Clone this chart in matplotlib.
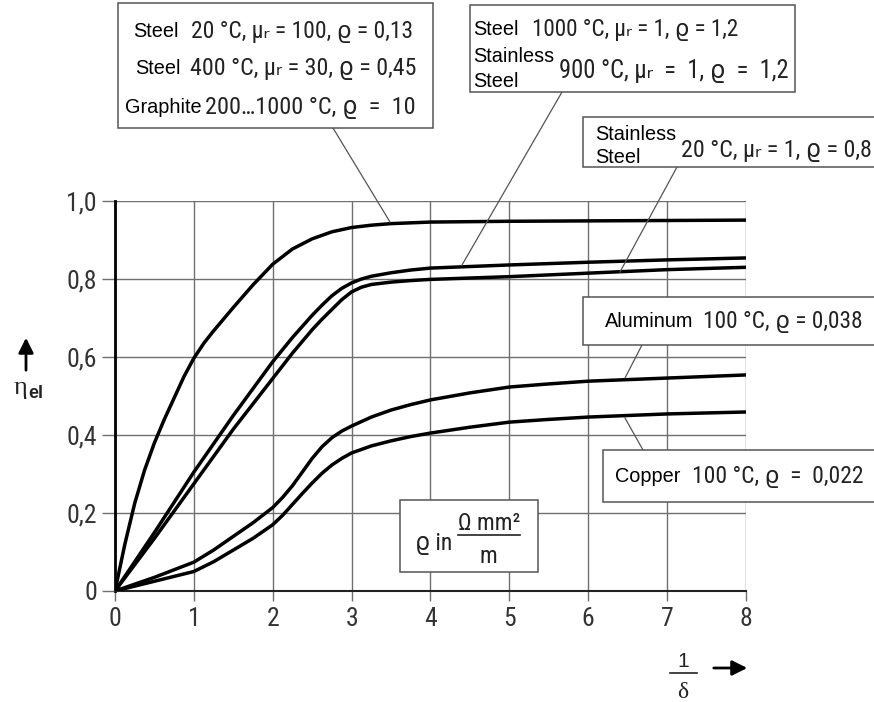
import matplotlib
matplotlib.use('Agg')
import matplotlib.pyplot as plt
from matplotlib import font_manager
from matplotlib.patches import Rectangle, FancyArrowPatch
from matplotlib.lines import Line2D

# ---------------- data ----------------
x_steel20 = [0, 0.125, 0.25, 0.375, 0.5, 0.625, 0.75, 0.875, 1, 1.125, 1.25, 1.5, 1.75, 2, 2.25, 2.5,
             2.75, 3, 3.25, 3.5, 4, 5, 6, 7, 8]
y_steel20 = [0, 0.12, 0.225, 0.31, 0.38, 0.44, 0.495, 0.55, 0.597, 0.635, 0.667, 0.727, 0.785, 0.838,
             0.877, 0.903, 0.921, 0.932, 0.938, 0.942, 0.946, 0.948, 0.949, 0.95, 0.951]

x_steel1000 = [0, 0.5, 1, 1.5, 2, 2.25, 2.5, 2.625, 2.75, 2.875, 3, 3.125, 3.25, 3.5, 3.75, 4, 5, 6, 7, 8]
y_steel1000 = [0, 0.15, 0.305, 0.45, 0.588, 0.65, 0.707, 0.733, 0.757, 0.776, 0.79, 0.80, 0.807, 0.816,
               0.823, 0.828, 0.836, 0.843, 0.849, 0.854]

x_stainless20 = [0, 0.5, 1, 1.5, 2, 2.25, 2.5, 2.625, 2.75, 2.875, 3, 3.125, 3.25, 3.5, 3.75, 4, 5, 6, 7, 8]
y_stainless20 = [0, 0.135, 0.275, 0.415, 0.545, 0.61, 0.67, 0.697, 0.722, 0.747, 0.767, 0.779, 0.786,
                 0.792, 0.796, 0.799, 0.806, 0.815, 0.824, 0.83]

x_aluminum = [0, 0.5, 1, 1.25, 1.5, 1.75, 2, 2.125, 2.25, 2.375, 2.5, 2.625, 2.75, 2.875, 3, 3.25, 3.5,
              3.75, 4, 4.5, 5, 5.5, 6, 7, 8]
y_aluminum = [0, 0.035, 0.074, 0.105, 0.14, 0.175, 0.214, 0.24, 0.27, 0.305, 0.34, 0.37, 0.393, 0.41,
              0.423, 0.446, 0.464, 0.478, 0.49, 0.508, 0.523, 0.531, 0.538, 0.546, 0.554]

x_copper = [0, 0.5, 1, 1.25, 1.5, 1.75, 2, 2.125, 2.25, 2.375, 2.5, 2.625, 2.75, 2.875, 3, 3.25, 3.5,
            3.75, 4, 4.5, 5, 5.5, 6, 7, 8]
y_copper = [0, 0.025, 0.05, 0.075, 0.105, 0.135, 0.17, 0.194, 0.222, 0.25, 0.277, 0.302, 0.323, 0.34,
            0.354, 0.372, 0.385, 0.396, 0.405, 0.42, 0.433, 0.44, 0.446, 0.454, 0.459]

x_ticks = [0, 1, 2, 3, 4, 5, 6, 7, 8]
y_ticks = [0, 0.2, 0.4, 0.6, 0.8, 1.0]
y_ticklabels = ['0', '0,2', '0,4', '0,6', '0,8', '1,0']

# ---------------- fonts ----------------
names = {f.name for f in font_manager.fontManager.ttflist}
COND = 'Liberation Sans'
for cand in ['Liberation Sans Narrow', 'Roboto Condensed', 'DejaVu Sans Condensed',
             'Open Sans Condensed', 'Liberation Sans']:
    if cand in names:
        COND = cand
        break
SANS = 'Liberation Sans' if 'Liberation Sans' in names else 'DejaVu Sans'
SERIF = 'Liberation Serif' if 'Liberation Serif' in names else 'DejaVu Serif'
CONDL = [COND, 'DejaVu Sans']
TICKSIZE = 16 if COND == 'Liberation Sans' else 18.5

W, H = 874, 702


def F(x, y):
    return (x / W, 1 - y / H)


fig = plt.figure(figsize=(W / 100, H / 100), dpi=100)
ax = fig.add_axes([115 / W, 1 - 591 / H, (746 - 115) / W, (591 - 201) / H])

for xs, ys in [(x_steel20, y_steel20), (x_steel1000, y_steel1000), (x_stainless20, y_stainless20),
               (x_aluminum, y_aluminum), (x_copper, y_copper)]:
    ax.plot(xs, ys, color='black', lw=2.5, solid_capstyle='butt', solid_joinstyle='round', zorder=3)

ax.set_xlim(0, 8)
ax.set_ylim(0, 1)
ax.set_xticks(x_ticks)
ax.set_xticklabels([str(v) for v in x_ticks])
ax.set_yticks(y_ticks)
ax.set_yticklabels(y_ticklabels)
ax.grid(True, color='#707070', lw=1.0)
for s in ['top', 'right']:
    ax.spines[s].set_visible(False)
ax.spines['left'].set_linewidth(2.0)
ax.spines['bottom'].set_linewidth(1.5)
ax.spines['bottom'].set_color('#222222')
ax.tick_params(axis='y', direction='out', length=9.5, width=1.0, color='#707070', pad=3.5)
ax.tick_params(axis='x', direction='out', length=7.5, width=1.0, color='#707070', pad=4)
for lab in ax.get_xticklabels() + ax.get_yticklabels():
    lab.set_fontfamily(CONDL)
    lab.set_fontsize(TICKSIZE)
    lab.set_color('#333333')

# ---------------- annotation boxes ----------------
fit_list = []


def box(x0, y0, x1, y1):
    r = Rectangle(F(x0, y1), (x1 - x0) / W, (y1 - y0) / H, transform=fig.transFigure,
                  facecolor='white', edgecolor='#555555', lw=1.1, zorder=5)
    fig.add_artist(r)


def leader(x0, y0, x1, y1):
    fig.add_artist(Line2D([x0 / W, x1 / W], [1 - y0 / H, 1 - y1 / H], transform=fig.transFigure,
                          color='#555555', lw=0.9, zorder=4))


def word(x, y, s, size=14.3):
    fig.text(*F(x, y), s, family=SANS, fontsize=size, color='black', ha='left', va='baseline', zorder=6)


def rest(x, y, s, x_end, size=16.5):
    t = fig.text(*F(x, y), s, family=CONDL, fontsize=size, color='#222222', ha='left', va='baseline',
                 zorder=6)
    fit_list.append((t, x_end - x))


box(118, 3, 433, 128)
word(133, 37, 'Steel')
rest(191, 38, '20 °C, μᵣ = 100, ϱ = 0,13', 412)
word(135, 74, 'Steel')
rest(190, 75, '400 °C, μᵣ = 30, ϱ = 0,45', 415)
word(125, 113, 'Graphite')
rest(205, 114, '200…1000 °C, ϱ  =  10', 415)
leader(333, 128, 390, 222)

box(470, 5, 795, 92)
word(473, 35, 'Steel')
rest(532, 36, '1000 °C, μᵣ = 1, ϱ = 1,2', 738)
word(473, 62, 'Stainless')
word(473, 87, 'Steel')
rest(559, 78, '900 °C, μᵣ  =  1, ϱ  =  1,2', 788)
leader(562, 92, 462, 265)

box(583, 117, 890, 167)
word(595, 140, 'Stainless')
word(595, 163, 'Steel')
rest(681, 157, '20 °C, μᵣ = 1, ϱ = 0,8', 871)
leader(677, 167, 620, 272)

box(583, 297, 890, 345)
word(605, 327, 'Aluminum')
rest(703, 328, '100 °C, ϱ = 0,038', 862)
leader(642, 345, 625, 378)

box(603, 450, 890, 502)
word(615, 482, 'Copper')
rest(692, 483, '100 °C, ϱ  =  0,022', 862)
leader(643, 450, 625, 418)

# rho unit box
box(400, 500, 538, 572)
fig.text(*F(415, 550), 'ϱ in', family=CONDL, fontsize=17, color='#222222', ha='left', va='baseline', zorder=6)
fig.text(*F(489, 530), 'Ω mm²', family=CONDL, fontsize=17, color='#222222', ha='center', va='baseline', zorder=6)
fig.add_artist(Line2D([458 / W, 520 / W], [1 - 535 / H, 1 - 535 / H], transform=fig.transFigure,
                      color='#222222', lw=1.2, zorder=6))
fig.text(*F(488, 563), 'm', family=CONDL, fontsize=17, color='#222222', ha='center', va='baseline', zorder=6)

# ---------------- axis labels ----------------
fig.add_artist(FancyArrowPatch(F(26, 373), F(26, 335), transform=fig.transFigure,
                               arrowstyle='-|>,head_length=6,head_width=3', color='black', lw=2.0,
                               mutation_scale=1.5))
fig.text(*F(20, 394), 'η', family=SERIF, fontsize=19, color='#222222', ha='center', va='baseline')
fig.text(*F(28, 398), 'el', family=SANS, fontsize=13, weight='bold', color='#222222', ha='left', va='baseline')

fig.text(*F(683, 667), '1', family=SANS, fontsize=15, color='#222222', ha='center', va='baseline')
fig.add_artist(Line2D([670 / W, 697 / W], [1 - 673 / H, 1 - 673 / H], transform=fig.transFigure,
                      color='#222222', lw=1.2))
fig.text(*F(683, 698), 'δ', family=SERIF, fontsize=17, color='#222222', ha='center', va='baseline')
fig.add_artist(FancyArrowPatch(F(711, 668), F(750, 668), transform=fig.transFigure,
                               arrowstyle='-|>,head_length=6,head_width=3', color='black', lw=2.0,
                               mutation_scale=1.5))

# fit the condensed parameter texts to the widths seen in the reference
fig.canvas.draw()
renderer = fig.canvas.get_renderer()
for t, target in fit_list:
    w = t.get_window_extent(renderer).width
    if w > 0:
        t.set_fontsize(min(t.get_fontsize() * target / w, 18))

fig.savefig('out.png', dpi=100)
